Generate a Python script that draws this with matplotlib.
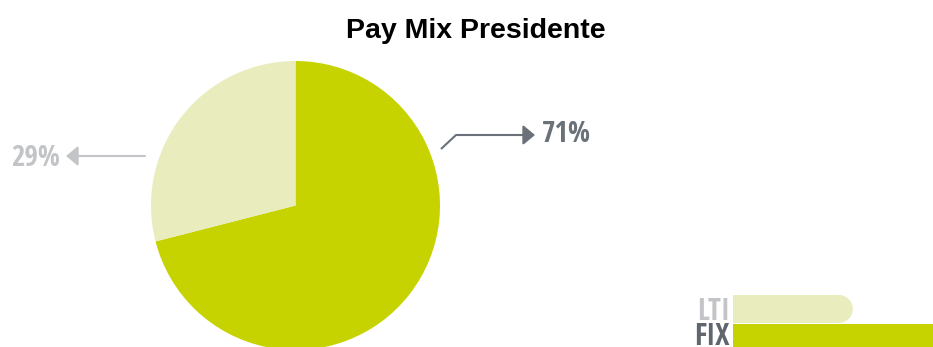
import matplotlib
matplotlib.use("Agg")
import matplotlib.pyplot as plt
from matplotlib.patches import Circle, Rectangle

# datos del pay mix
etiquetas = ["FIX", "LTI"]
valores = [71, 29]
colores = ["#c6d300", "#e9edbd"]
textos = ["71%", "29%"]

W, H = 933, 347
fig = plt.figure(figsize=(W / 100, H / 100), dpi=100)
ax = fig.add_axes([0, 0, 1, 1])

# pie: FIX en sentido horario desde arriba, LTI el resto
ax.pie(valores, colors=colores, startangle=90, counterclock=False,
       center=(295.5, H - 205.5), radius=144.5, frame=True,
       wedgeprops=dict(linewidth=0))

ax.set_xlim(0, W)
ax.set_ylim(0, H)
ax.set_aspect("auto")
ax.axis("off")

ax.text(476, H - 38, "Pay Mix Presidente", fontsize=20.5, fontweight="bold",
        family="Liberation Sans", ha="center", va="baseline", color="#000000")

fuente = ["Open Sans Condensed", "PT Sans Narrow", "DejaVu Sans"]
gris_osc = "#6a7179"
gris_cla = "#c2c4c7"
flecha = "-|>,head_length=0.72,head_width=0.6"

# etiqueta FIX
ax.plot([441, 456, 526], [H - 149, H - 135, H - 135], color=gris_osc, lw=1.5,
        solid_capstyle="butt")
ax.annotate("", xy=(535, H - 135), xytext=(522, H - 135),
            arrowprops=dict(arrowstyle=flecha, color=gris_osc, lw=1.5,
                            shrinkA=0, shrinkB=0))
ax.text(542, H - 142, textos[0], fontsize=21, fontweight="bold", family=fuente,
        color=gris_osc, ha="left", va="baseline")

# etiqueta LTI
ax.annotate("", xy=(66, H - 156), xytext=(145, H - 156),
            arrowprops=dict(arrowstyle=flecha, color=gris_cla, lw=1.5,
                            shrinkA=0, shrinkB=0))
ax.text(11, H - 166, textos[1], fontsize=21, fontweight="bold", family=fuente,
        color=gris_cla, ha="left", va="baseline")

# leyenda con barras proporcionales
escala = 4.13
x0 = 733
alto = 28
filas = [(H - 309, H - 320, valores[1], colores[1], "LTI", gris_cla),
         (H - 338, H - 345, valores[0], colores[0], "FIX", "#5f666d")]
for yc, yb, v, c, lab, tc in filas:
    largo = v * escala
    r = alto / 2
    ax.add_patch(Rectangle((x0, yc - r), largo - r, alto, color=c, lw=0))
    ax.add_patch(Circle((x0 + largo - r, yc), r, color=c, lw=0))
    ax.text(x0 - 3, yb, lab, fontsize=21.5, fontweight="bold", family=fuente,
            color=tc, ha="right", va="baseline")

fig.savefig("out.png", dpi=100)
